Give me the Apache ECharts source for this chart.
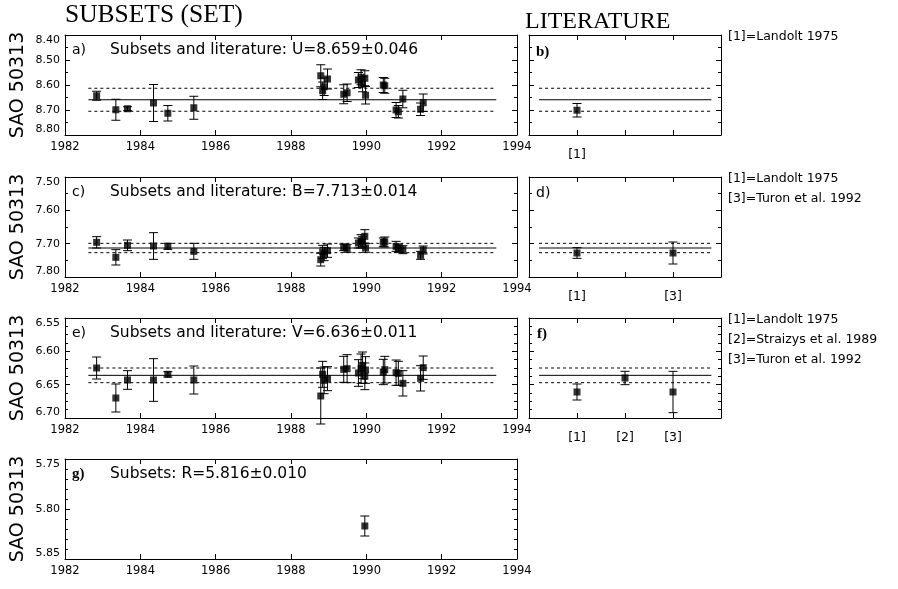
<!DOCTYPE html>
<html>
<head>
<meta charset="utf-8">
<script src="https://cdn.jsdelivr.net/npm/echarts@6/dist/echarts.min.js"></script>
<style>
html,body{margin:0;padding:0;background:#fff;}
#chart{width:898px;height:589px;}
</style>
</head>
<body>
<div id="chart"></div>
<script>
// ---------------- DATA ----------------
const epochs = [1982.84,1983.35,1983.66,1984.35,1984.73,1985.42,1988.79,1988.84,1988.88,1988.97,1989.40,1989.49,1989.79,1989.86,1989.90,1989.96,1989.98,1990.45,1990.49,1990.79,1990.85,1990.97,1991.44,1991.51];

const U_mag = [8.643,8.699,8.695,8.672,8.713,8.691,8.563,8.623,8.607,8.576,8.637,8.631,8.580,8.569,8.597,8.573,8.641,8.600,8.603,8.700,8.707,8.656,8.697,8.671];
const U_err = [0.018,0.042,0.008,0.074,0.031,0.046,0.044,0.035,0.035,0.040,0.038,0.035,0.030,0.030,0.030,0.030,0.035,0.030,0.030,0.030,0.025,0.035,0.025,0.035];
const U_mean = 8.659, U_sig = 0.046;

const B_mag = [7.696,7.741,7.705,7.707,7.708,7.723,7.748,7.725,7.731,7.721,7.711,7.714,7.698,7.693,7.693,7.678,7.713,7.696,7.695,7.708,7.714,7.718,7.735,7.719];
const B_err = [0.017,0.023,0.016,0.040,0.009,0.024,0.019,0.020,0.020,0.020,0.010,0.012,0.015,0.020,0.015,0.020,0.013,0.013,0.015,0.015,0.012,0.012,0.012,0.012];
const B_mean = 7.713, B_sig = 0.014;

const V_mag = [6.625,6.670,6.643,6.643,6.6345,6.643,6.667,6.6345,6.6435,6.641,6.627,6.626,6.6325,6.626,6.621,6.6375,6.628,6.631,6.6275,6.632,6.633,6.648,6.6405,6.6245];
const V_err = [0.0165,0.021,0.014,0.032,0.004,0.021,0.042,0.0195,0.020,0.018,0.0195,0.021,0.020,0.022,0.020,0.020,0.020,0.019,0.020,0.019,0.018,0.019,0.019,0.0175];
const V_mean = 6.636, V_sig = 0.011;

const R_epochs = [1989.96];
const R_mag = [5.817];
const R_err = [0.010];

// literature: reference index, magnitude, error
const U_lit_ref = [1], U_lit_mag = [8.701], U_lit_err = [0.027];
const B_lit_ref = [1,3], B_lit_mag = [7.728,7.728], B_lit_err = [0.016,0.033];
const V_lit_ref = [1,2,3], V_lit_mag = [6.661,6.640,6.661], V_lit_err = [0.012,0.010,0.031];

const refLabels = ['', '[1]', '[2]', '[3]', ''];
const refNames = {1:'Landolt 1975', 2:'Straizys et al. 1989', 3:'Turon et al. 1992'};

const meanSpanYears = [1982.62, 1993.45];
const meanSpanRefs = [0.21, 3.8];

// ---------------- CHART ----------------
const chart = echarts.init(document.getElementById('chart'), null, {renderer:'canvas'});
const FONT = 'DejaVu Sans';
const BLACK = '#000';

const L = {left:65, width:452}, R = {left:529, width:192};
const tops = [35, 177, 318, 459];
const H = 100;

const grids = [], xAxes = [], yAxes = [], series = [];

function addPanel(opt){
  const gi = grids.length;
  grids.push({left:opt.left, top:opt.top, width:opt.width, height:H, containLabel:false});
  const xBase = {
    gridIndex:gi, type:'value', min:opt.xmin, max:opt.xmax, interval:opt.xint,
    axisLine:{show:true, onZero:false, lineStyle:{color:BLACK,width:1}},
    axisTick:{show:true, inside:true, length:5, lineStyle:{color:BLACK}},
    splitLine:{show:false}
  };
  xAxes.push(Object.assign({}, xBase, {position:'bottom',
    axisLabel:{show:true, color:BLACK, fontFamily:FONT, fontSize:opt.xLabelSize, margin:opt.xLabelMargin, formatter:opt.xfmt, showMinLabel:true, showMaxLabel:true}}));
  xAxes.push(Object.assign({}, xBase, {position:'top', axisLabel:{show:false}}));
  const yBase = {
    gridIndex:gi, type:'value', inverse:true, min:opt.ymin, max:opt.ymax, interval:opt.yint,
    axisLine:{show:true, onZero:false, lineStyle:{color:BLACK,width:1}},
    axisTick:{show:true, inside:true, length:5, lineStyle:{color:BLACK}},
    minorTick:{show:true, splitNumber:opt.ysplit, length:3, lineStyle:{color:BLACK}},
    splitLine:{show:false}, minorSplitLine:{show:false}
  };
  yAxes.push(Object.assign({}, yBase, {position:'left',
    axisLabel:{show:opt.ylabels, color:BLACK, fontFamily:FONT, fontSize:11, margin:5,
      formatter:v=>v.toFixed(2), showMinLabel:true, showMaxLabel:true,
      verticalAlignMinLabel:'top', verticalAlignMaxLabel:'bottom'}}));
  yAxes.push(Object.assign({}, yBase, {position:'right', axisLabel:{show:false}}));
  const xi = gi*2, yi = gi*2;
  if (opt.mean !== undefined){
    const [a,b] = opt.span;
    const mk = (val, dashed) => ({type:'line', xAxisIndex:xi, yAxisIndex:yi, data:[[a,val],[b,val]],
      symbol:'none', silent:true, animation:false,
      lineStyle:{color:BLACK, width:1, type: dashed?[3,3]:'solid'}});
    series.push(mk(opt.mean,false), mk(opt.mean-opt.sig,true), mk(opt.mean+opt.sig,true));
  }
  const pts = opt.xs.map((x,i)=>[x, opt.ys[i], opt.es[i]]);
  series.push({type:'custom', xAxisIndex:xi, yAxisIndex:yi, data:pts, animation:false, silent:true,
    renderItem:(params, api)=>{
      const x = api.value(0), y = api.value(1), e = api.value(2);
      const p0 = api.coord([x, y-e]), p1 = api.coord([x, y+e]);
      const cw = 4.5;
      const st = {stroke:BLACK, lineWidth:1};
      return {type:'group', children:[
        {type:'line', shape:{x1:p0[0], y1:p0[1], x2:p1[0], y2:p1[1]}, style:st},
        {type:'line', shape:{x1:p0[0]-cw, y1:p0[1], x2:p0[0]+cw, y2:p0[1]}, style:st},
        {type:'line', shape:{x1:p1[0]-cw, y1:p1[1], x2:p1[0]+cw, y2:p1[1]}, style:st}
      ]};
    },
    encode:{x:0, y:1}
  });
  series.push({type:'scatter', xAxisIndex:xi, yAxisIndex:yi, data:pts.map(p=>[p[0],p[1]]),
    symbol:'rect', symbolSize:7, itemStyle:{color:BLACK}, animation:false, silent:true});
}

const yearFmt = v => String(v);
function refFmt(refs){ return v => refs.indexOf(v) >= 0 ? refLabels[v] : ''; }

const leftCommon = {left:L.left, width:L.width, xmin:1982, xmax:1994, xint:2, xfmt:yearFmt, xLabelMargin:6, xLabelSize:11.5, ylabels:true};
const rightCommon = {left:R.left, width:R.width, xmin:0, xmax:4, xint:1, xLabelMargin:13, xLabelSize:12.5, ylabels:false};

// a) U subsets
addPanel(Object.assign({}, leftCommon, {top:tops[0], ymin:8.40, ymax:8.80, yint:0.1, ysplit:2,
  mean:U_mean, sig:U_sig, span:meanSpanYears, xs:epochs, ys:U_mag, es:U_err}));
// b) U literature
addPanel(Object.assign({}, rightCommon, {top:tops[0], xfmt:refFmt(U_lit_ref), ymin:8.40, ymax:8.80, yint:0.1, ysplit:2,
  mean:U_mean, sig:U_sig, span:meanSpanRefs, xs:U_lit_ref, ys:U_lit_mag, es:U_lit_err}));
// c) B subsets
addPanel(Object.assign({}, leftCommon, {top:tops[1], ymin:7.50, ymax:7.80, yint:0.1, ysplit:2,
  mean:B_mean, sig:B_sig, span:meanSpanYears, xs:epochs, ys:B_mag, es:B_err}));
// d) B literature
addPanel(Object.assign({}, rightCommon, {top:tops[1], xfmt:refFmt(B_lit_ref), ymin:7.50, ymax:7.80, yint:0.1, ysplit:2,
  mean:B_mean, sig:B_sig, span:meanSpanRefs, xs:B_lit_ref, ys:B_lit_mag, es:B_lit_err}));
// e) V subsets
addPanel(Object.assign({}, leftCommon, {top:tops[2], ymin:6.55, ymax:6.70, yint:0.05, ysplit:4,
  mean:V_mean, sig:V_sig, span:meanSpanYears, xs:epochs, ys:V_mag, es:V_err}));
// f) V literature
addPanel(Object.assign({}, rightCommon, {top:tops[2], xfmt:refFmt(V_lit_ref), ymin:6.55, ymax:6.70, yint:0.05, ysplit:4,
  mean:V_mean, sig:V_sig, span:meanSpanRefs, xs:V_lit_ref, ys:V_lit_mag, es:V_lit_err}));
// g) R subsets
addPanel(Object.assign({}, leftCommon, {top:tops[3], ymin:5.75, ymax:5.85, yint:0.05, ysplit:5,
  xs:R_epochs, ys:R_mag, es:R_err}));

// ---- texts ----
const graphic = [];
function txt(x, y, s, o){
  graphic.push(Object.assign({type:'text', x:x, y:y, silent:true,
    style:Object.assign({text:s, fill:BLACK, font:'15.5px "DejaVu Sans"', textVerticalAlign:'middle'}, o||{})}));
}
txt(65, 15, 'SUBSETS (SET)', {font:'25.5px "Liberation Serif"'});
txt(525, 22, 'LITERATURE', {font:'24px "Liberation Serif"'});
tops.forEach(t=>{
  graphic.push({type:'text', x:18, y:t+50, rotation:Math.PI/2, silent:true,
    style:{text:'SAO 50313', fill:BLACK, font:'19px "DejaVu Sans"', textAlign:'center', textVerticalAlign:'middle'}});
});
const panelTexts = [
  ['a)', 'Subsets and literature: U=8.659\u00b10.046', false],
  ['c)', 'Subsets and literature: B=7.713\u00b10.014', false],
  ['e)', 'Subsets and literature: V=6.636\u00b10.011', false],
  ['g)', 'Subsets: R=5.816\u00b10.010', true]
];
panelTexts.forEach((p,i)=>{
  txt(72, tops[i]+15, p[0], p[2] ? {font:'bold 15px "Liberation Serif"'} : {font:'14px "DejaVu Sans"'});
  txt(110, tops[i]+15, p[1]);
});
txt(536, tops[0]+17, 'b)', {font:'bold 15px "Liberation Serif"'});
txt(536, tops[1]+16, 'd)', {font:'14px "DejaVu Sans"'});
txt(537, tops[2]+16, 'f)', {font:'bold 15px "Liberation Serif"'});
const legendRefs = [U_lit_ref, B_lit_ref, V_lit_ref];
legendRefs.forEach((refs,i)=>{
  refs.forEach((r,j)=>{
    txt(728, tops[i]+2+j*20, refLabels[r]+'='+refNames[r], {font:'12.5px "DejaVu Sans"'});
  });
});

chart.setOption({
  animation:false,
  backgroundColor:'#fff',
  grid:grids, xAxis:xAxes, yAxis:yAxes, series:series, graphic:graphic
});
</script>
</body>
</html>
